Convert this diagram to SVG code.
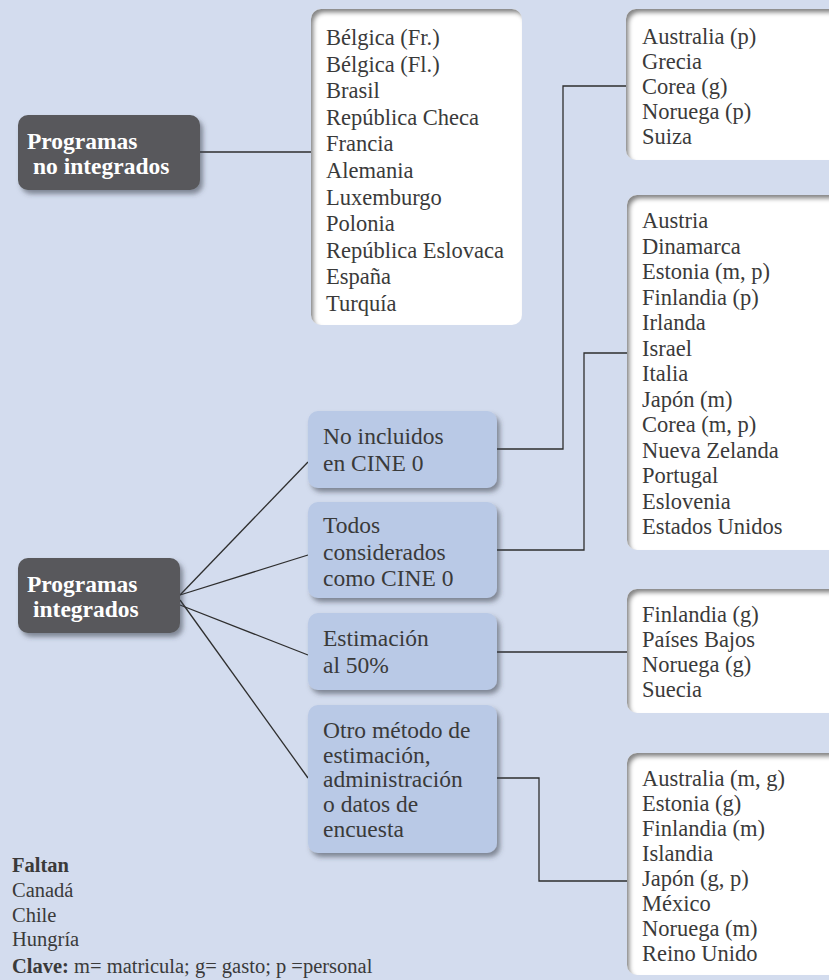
<svg xmlns="http://www.w3.org/2000/svg" width="829" height="980" viewBox="0 0 829 980">
  <defs>
    <filter id="drop" x="-10%" y="-10%" width="130%" height="140%">
      <feGaussianBlur in="SourceAlpha" stdDeviation="2.5"/>
      <feOffset dx="3" dy="4" result="b"/>
      <feFlood flood-color="#3a3f4a" flood-opacity="0.55"/>
      <feComposite in2="b" operator="in" result="s"/>
      <feMerge><feMergeNode in="s"/><feMergeNode in="SourceGraphic"/></feMerge>
    </filter>
    <filter id="inset" x="-5%" y="-5%" width="110%" height="110%">
      <feOffset in="SourceAlpha" dx="3" dy="4" result="o"/>
      <feGaussianBlur in="o" stdDeviation="2" result="b"/>
      <feComposite in="SourceAlpha" in2="b" operator="out" result="inv"/>
      <feFlood flood-color="#6e6e6e" flood-opacity="0.9"/>
      <feComposite in2="inv" operator="in" result="sh"/>
      <feMerge><feMergeNode in="SourceGraphic"/><feMergeNode in="sh"/></feMerge>
    </filter>
  </defs>
  <style>
    .dark { fill: #58595b; filter: url(#drop); }
    .blue { fill: #b9c9e6; filter: url(#drop); }
    .white { fill: #ffffff; filter: url(#inset); }
    .t { font-family: "Liberation Serif", "DejaVu Serif", serif; font-size: 22.5px; fill: #3a3a3a; }
    .tb { font-family: "Liberation Serif", "DejaVu Serif", serif; font-size: 23.5px; fill: #3a3a3a; }
    .h { font-family: "Liberation Serif", "DejaVu Serif", serif; font-size: 23.5px; font-weight: bold; fill: #ffffff; }
    .k { font-family: "Liberation Serif", "DejaVu Serif", serif; font-size: 20.5px; fill: #3a3a3a; }
    .kb { font-weight: bold; }
    .conn { fill: none; stroke: #2e2e2e; stroke-width: 1.3; }
  </style>

  <rect x="0" y="0" width="829" height="980" fill="#d3dcee"/>

  <g id="connectors" class="conn">
    <path d="M200,152 H311"/>
    <path d="M497,449 H563 V86 H626"/>
    <path d="M497,550 H584 V353 H627"/>
    <path d="M497,652 H627"/>
    <path d="M497,778 H539 V881 H627"/>
    <path d="M180,595 L308,462"/>
    <path d="M180,595 L308,555"/>
    <path d="M180,605 L308,655"/>
    <path d="M180,600 L308,778"/>
  </g>

  <g id="no-integrados">
    <rect class="dark" x="18" y="115" width="182" height="75" rx="10"/>
    <text class="h" x="27" y="149">Programas</text>
    <text class="h" x="33" y="174">no integrados</text>
  </g>

  <g id="integrados">
    <rect class="dark" x="18" y="558" width="162" height="75" rx="10"/>
    <text class="h" x="27" y="592">Programas</text>
    <text class="h" x="33" y="617">integrados</text>
  </g>

  <g id="lista-no-integrados">
    <rect class="white" x="311" y="9" width="211" height="316" rx="10"/>
    <text class="t" x="326">
      <tspan x="326" y="45">Bélgica (Fr.)</tspan>
      <tspan x="326" y="71.6">Bélgica (Fl.)</tspan>
      <tspan x="326" y="98.2">Brasil</tspan>
      <tspan x="326" y="124.8">República Checa</tspan>
      <tspan x="326" y="151.4">Francia</tspan>
      <tspan x="326" y="178">Alemania</tspan>
      <tspan x="326" y="204.6">Luxemburgo</tspan>
      <tspan x="326" y="231.2">Polonia</tspan>
      <tspan x="326" y="257.8">República Eslovaca</tspan>
      <tspan x="326" y="284.4">España</tspan>
      <tspan x="326" y="311">Turquía</tspan>
    </text>
  </g>

  <g id="no-incluidos">
    <rect class="blue" x="308" y="411" width="189" height="77" rx="10"/>
    <text class="tb"><tspan x="323" y="444">No incluidos</tspan><tspan x="323" y="471">en CINE 0</tspan></text>
  </g>

  <g id="todos-cine0">
    <rect class="blue" x="308" y="502" width="189" height="96" rx="10"/>
    <text class="tb"><tspan x="323" y="533">Todos</tspan><tspan x="323" y="560">considerados</tspan><tspan x="323" y="586">como CINE 0</tspan></text>
  </g>

  <g id="estimacion-50">
    <rect class="blue" x="308" y="613" width="189" height="77" rx="10"/>
    <text class="tb"><tspan x="323" y="646">Estimación</tspan><tspan x="323" y="673">al 50%</tspan></text>
  </g>

  <g id="otro-metodo">
    <rect class="blue" x="308" y="705" width="189" height="148" rx="10"/>
    <text class="tb"><tspan x="323" y="738">Otro método de</tspan><tspan x="323" y="763">estimación,</tspan><tspan x="323" y="787">administración</tspan><tspan x="323" y="812">o datos de</tspan><tspan x="323" y="837">encuesta</tspan></text>
  </g>

  <g id="lista-no-incluidos">
    <rect class="white" x="626" y="9" width="230" height="151" rx="10"/>
    <text class="t">
      <tspan x="642" y="44">Australia (p)</tspan>
      <tspan x="642" y="69">Grecia</tspan>
      <tspan x="642" y="94">Corea (g)</tspan>
      <tspan x="642" y="119">Noruega (p)</tspan>
      <tspan x="642" y="144">Suiza</tspan>
    </text>
  </g>

  <g id="lista-todos">
    <rect class="white" x="627" y="195" width="230" height="355" rx="10"/>
    <text class="t">
      <tspan x="642" y="228">Austria</tspan>
      <tspan x="642" y="253.5">Dinamarca</tspan>
      <tspan x="642" y="279">Estonia (m, p)</tspan>
      <tspan x="642" y="304.5">Finlandia (p)</tspan>
      <tspan x="642" y="330">Irlanda</tspan>
      <tspan x="642" y="355.5">Israel</tspan>
      <tspan x="642" y="381">Italia</tspan>
      <tspan x="642" y="406.5">Japón (m)</tspan>
      <tspan x="642" y="432">Corea (m, p)</tspan>
      <tspan x="642" y="457.5">Nueva Zelanda</tspan>
      <tspan x="642" y="483">Portugal</tspan>
      <tspan x="642" y="508.5">Eslovenia</tspan>
      <tspan x="642" y="534">Estados Unidos</tspan>
    </text>
  </g>

  <g id="lista-50">
    <rect class="white" x="627" y="589" width="230" height="124" rx="10"/>
    <text class="t">
      <tspan x="642" y="622">Finlandia (g)</tspan>
      <tspan x="642" y="647">Países Bajos</tspan>
      <tspan x="642" y="672">Noruega (g)</tspan>
      <tspan x="642" y="697">Suecia</tspan>
    </text>
  </g>

  <g id="lista-otro">
    <rect class="white" x="627" y="753" width="230" height="222" rx="10"/>
    <text class="t">
      <tspan x="642" y="786">Australia (m, g)</tspan>
      <tspan x="642" y="811">Estonia (g)</tspan>
      <tspan x="642" y="836">Finlandia (m)</tspan>
      <tspan x="642" y="861">Islandia</tspan>
      <tspan x="642" y="886">Japón (g, p)</tspan>
      <tspan x="642" y="911">México</tspan>
      <tspan x="642" y="936">Noruega (m)</tspan>
      <tspan x="642" y="961">Reino Unido</tspan>
    </text>
  </g>

  <g id="leyenda">
    <text class="k kb" x="12" y="872">Faltan</text>
    <text class="k"><tspan x="12" y="897">Canadá</tspan><tspan x="12" y="922">Chile</tspan><tspan x="12" y="946">Hungría</tspan></text>
    <text class="k" x="12" y="973"><tspan class="kb">Clave:</tspan> m= matricula; g= gasto; p =personal</text>
  </g>
</svg>
